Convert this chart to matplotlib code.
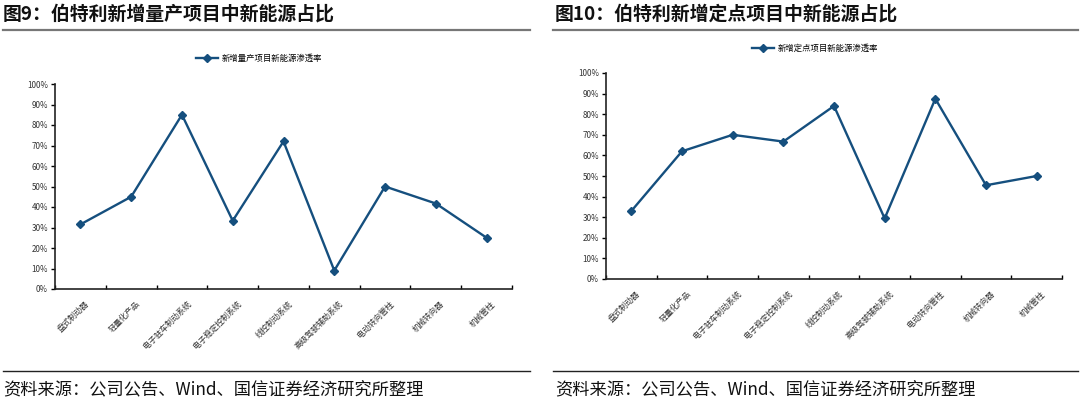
import matplotlib

matplotlib.use("Agg")
import matplotlib.pyplot as plt
from matplotlib.lines import Line2D

plt.rcParams["font.family"] = ["Noto Sans CJK SC", "DejaVu Sans"]

CATEGORIES = [
    "盘式制动器",
    "轻量化产品",
    "电子驻车制动系统",
    "电子稳定控制系统",
    "线控制动系统",
    "高级驾驶辅助系统",
    "电动转向管柱",
    "机械转向器",
    "机械管柱",
]
MASS_PRODUCTION = [31.5, 45.0, 85.0, 33.3, 72.0, 9.0, 50.0, 41.7, 25.0]
DESIGNATED = [33.0, 62.0, 70.0, 66.7, 84.0, 29.4, 87.5, 45.5, 50.0]
Y_TICKS = list(range(0, 101, 10))

LINE_COLOR = "#154F7E"


def draw_panel(fig, rect, values, legend_label, legend_xy):
    ax = fig.add_axes(rect)
    xs = list(range(len(CATEGORIES)))
    ax.plot(xs, values, color=LINE_COLOR, linewidth=1.7, marker="D", markersize=4.5,
            label=legend_label, zorder=3)
    ax.set_xlim(-0.5, len(CATEGORIES) - 0.5)
    ax.set_ylim(0, 100)
    ax.set_yticks(Y_TICKS)
    ax.set_yticklabels([f"{t}%" for t in Y_TICKS], fontsize=5.8, color="#333333")
    ax.tick_params(axis="y", direction="out", length=3, width=1, pad=2)
    # category boundary ticks pointing inward
    ax.set_xticks([i - 0.5 for i in range(len(CATEGORIES) + 1)])
    ax.set_xticklabels([])
    ax.tick_params(axis="x", direction="in", length=3, width=1)
    for i, name in enumerate(CATEGORIES):
        ax.text(i + 0.08, -5, name, rotation=45, ha="right", va="top",
                fontsize=5.8, color="#333333", rotation_mode="anchor",
                transform=ax.transData)
    for side in ("top", "right"):
        ax.spines[side].set_visible(False)
    for side in ("left", "bottom"):
        ax.spines[side].set_linewidth(1.2)
        ax.spines[side].set_color("#222222")
    handle = Line2D([], [], color=LINE_COLOR, linewidth=1.7, marker="D", markersize=4)
    fig.legend([handle], [legend_label], loc="center left", bbox_to_anchor=legend_xy,
               frameon=False, fontsize=6, handlelength=2.6, handletextpad=0.5,
               borderaxespad=0)
    return ax


W, H = 1080, 408
fig = plt.figure(figsize=(W / 100, H / 100), dpi=100)

# left panel: axes x 55-512, y 84-289
draw_panel(fig, [55 / W, 1 - 289 / H, (512 - 55) / W, (289 - 84) / H],
           MASS_PRODUCTION, "新增量产项目新能源渗透率", (193 / W, 1 - 58 / H))
# right panel: axes x 606-1062, y 73-279
draw_panel(fig, [606 / W, 1 - 279 / H, (1062 - 606) / W, (279 - 73) / H],
           DESIGNATED, "新增定点项目新能源渗透率", (749 / W, 1 - 48 / H))

# titles and rules
fig.text(3 / W, 1 - 14 / H, "图9：伯特利新增量产项目中新能源占比", fontsize=13.6,
         va="center", ha="left", color="#111111", fontweight="bold")
fig.text(555 / W, 1 - 14 / H, "图10：伯特利新增定点项目中新能源占比", fontsize=13.6,
         va="center", ha="left", color="#111111", fontweight="bold")
fig.add_artist(Line2D([3 / W, 530 / W], [1 - 30 / H] * 2, color="#777777", linewidth=1.6))
fig.add_artist(Line2D([553 / W, 1078 / W], [1 - 30 / H] * 2, color="#777777", linewidth=1.6))

fig.add_artist(Line2D([3 / W, 530 / W], [1 - 371 / H] * 2, color="#222222", linewidth=1.0))
fig.add_artist(Line2D([553 / W, 1078 / W], [1 - 371 / H] * 2, color="#222222", linewidth=1.0))
fig.text(3 / W, 1 - 390 / H, "资料来源：公司公告、Wind、国信证券经济研究所整理", fontsize=12.4,
         va="center", ha="left", color="#111111")
fig.text(555 / W, 1 - 390 / H, "资料来源：公司公告、Wind、国信证券经济研究所整理", fontsize=12.4,
         va="center", ha="left", color="#111111")

fig.savefig("out.png", dpi=100)
